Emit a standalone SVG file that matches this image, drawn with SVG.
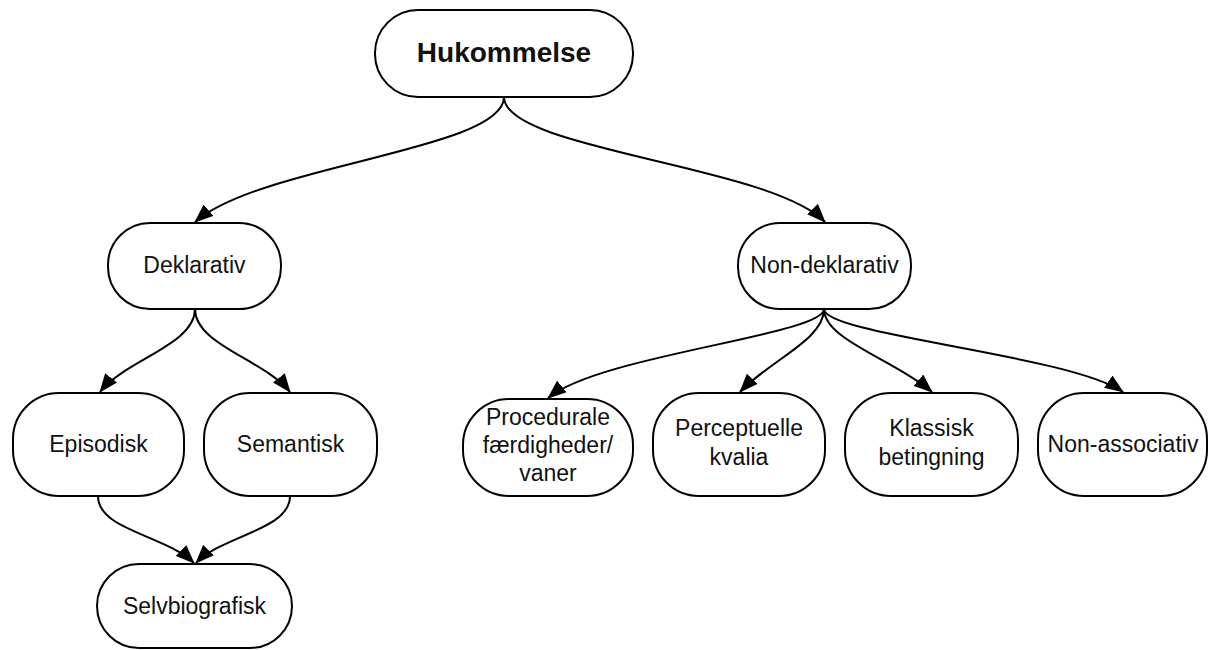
<svg xmlns="http://www.w3.org/2000/svg" width="1209" height="650" viewBox="0 0 1209 650">
<defs>
<marker id="arr" markerWidth="19" markerHeight="15" refX="18" refY="7.5" orient="auto" markerUnits="userSpaceOnUse">
<path d="M0,0 L19,7.5 L0,15 Z" fill="#000"/>
</marker>
<style>
.n rect{fill:#fff;stroke:#000;stroke-width:2}
.n text{font-family:"Liberation Sans",Arial,sans-serif;font-size:23px;fill:#111;text-anchor:middle}
.c path{fill:none;stroke:#000;stroke-width:2;marker-end:url(#arr)}
</style>
</defs>
<rect width="1209" height="650" fill="#fff"/>
<g id="connectors" class="c">
<path d="M504,97 C504,150 260,165 195,222"/>
<path d="M504,97 C504,150 770,165 825,222"/>
<path d="M195,309 C195,345 125,360 100,392"/>
<path d="M195,309 C195,345 265,360 290,392"/>
<path d="M98,496 C98,530 165,535 194,563"/>
<path d="M290,496 C290,530 223,535 196,563"/>
<path d="M824,309 C824,335 600,355 548,398"/>
<path d="M824,309 C824,340 770,360 740,392"/>
<path d="M824,309 C824,340 895,360 932,392"/>
<path d="M824,309 C824,335 1070,355 1123,392"/>
</g>
<g id="hukommelse" class="n">
<rect x="375" y="10" width="258" height="87" rx="43" ry="43"/>
<text x="504" y="62" style="font-weight:bold;font-size:28px">Hukommelse</text>
</g>
<g id="deklarativ" class="n">
<rect x="108" y="223" width="173" height="86" rx="42" ry="42"/>
<text x="194.5" y="273">Deklarativ</text>
</g>
<g id="nondeklarativ" class="n">
<rect x="738" y="223" width="173" height="86" rx="42" ry="42"/>
<text x="824.5" y="273">Non-deklarativ</text>
</g>
<g id="episodisk" class="n">
<rect x="13" y="393" width="171" height="103" rx="46" ry="46"/>
<text x="98.5" y="452">Episodisk</text>
</g>
<g id="semantisk" class="n">
<rect x="204" y="393" width="173" height="103" rx="46" ry="46"/>
<text x="290.5" y="452">Semantisk</text>
</g>
<g id="selvbiografisk" class="n">
<rect x="97" y="564" width="195" height="84" rx="42" ry="42"/>
<text x="194.5" y="614">Selvbiografisk</text>
</g>
<g id="procedurale" class="n">
<rect x="463" y="399" width="170" height="97" rx="46" ry="46"/>
<text x="548" y="425">Procedurale</text>
<text x="548" y="453">færdigheder/</text>
<text x="548" y="481">vaner</text>
</g>
<g id="perceptuelle" class="n">
<rect x="653" y="393" width="172" height="103" rx="46" ry="46"/>
<text x="739" y="436">Perceptuelle</text>
<text x="739" y="465">kvalia</text>
</g>
<g id="klassisk" class="n">
<rect x="845" y="393" width="173" height="103" rx="46" ry="46"/>
<text x="931.5" y="436">Klassisk</text>
<text x="931.5" y="465">betingning</text>
</g>
<g id="nonassociativ" class="n">
<rect x="1038" y="393" width="169" height="103" rx="46" ry="46"/>
<text x="1123" y="452">Non-associativ</text>
</g>
</svg>
